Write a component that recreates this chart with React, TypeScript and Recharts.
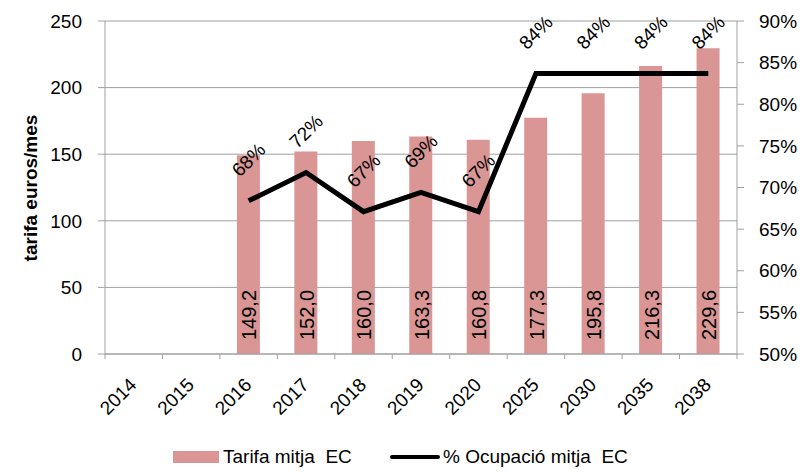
import { ComposedChart, Bar, Line, XAxis, YAxis, CartesianGrid, LabelList } from 'recharts';

const FONT = '"Liberation Sans", Arial, sans-serif';
const BAR_COLOR = '#d99694';
const AXIS_COLOR = '#a0a0a0';

const years = ['2014', '2015', '2016', '2017', '2018', '2019', '2020', '2025', '2030', '2035', '2038'];
const tarifa = [null, null, 149.2, 152.0, 160.0, 163.3, 160.8, 177.3, 195.8, 216.3, 229.6];
const ocupacio = [null, null, 68.4, 71.8, 67.1, 69.4, 67.1, 83.7, 83.7, 83.7, 83.7];
const leftTicks = [0, 50, 100, 150, 200, 250];
const rightTicks = [50, 55, 60, 65, 70, 75, 80, 85, 90];

const data = years.map((year, i) => ({ year, tarifa: tarifa[i], ocupacio: ocupacio[i] }));

const PLOT_W = 632;
const BAND = PLOT_W / years.length;

function YearTick(props: any) {
  const { x, y, index, payload } = props;
  const left = x - BAND / 2;
  return (
    <g>
      <line x1={left} y1={y} x2={left} y2={y + 5} stroke={AXIS_COLOR} />
      {index === years.length - 1 && (
        <line x1={x + BAND / 2} y1={y} x2={x + BAND / 2} y2={y + 5} stroke={AXIS_COLOR} />
      )}
      <text
        x={x + 4}
        y={y + 32}
        transform={`rotate(-45, ${x + 4}, ${y + 32})`}
        textAnchor="end"
        fontFamily={FONT}
        fontSize={19}
        fill="#000"
      >
        {payload.value}
      </text>
    </g>
  );
}

function BarValue(props: any) {
  const { x, y, width, height, value } = props;
  if (value == null) return null;
  const cx = x + width / 2 + 8;
  const cy = y + height - 14;
  return (
    <text
      x={cx}
      y={cy}
      transform={`rotate(-90, ${cx}, ${cy})`}
      textAnchor="start"
      fontFamily={FONT}
      fontSize={20}
      fill="#000"
    >
      {value.toFixed(1).replace('.', ',')}
    </text>
  );
}

function PctValue(props: any) {
  const { x, y, value } = props;
  if (value == null) return null;
  const cy = y - 41;
  return (
    <text
      x={x}
      y={cy}
      transform={`rotate(-45, ${x}, ${cy})`}
      textAnchor="middle"
      dominantBaseline="central"
      fontFamily={FONT}
      fontSize={19}
      fill="#000"
    >
      {Math.round(value)}%
    </text>
  );
}

export default function App() {
  return (
    <div style={{ position: 'absolute', left: 0, top: 0, width: 812, height: 472, background: '#fff' }}>
      <ComposedChart
        width={812}
        height={472}
        data={data}
        margin={{ top: 21, right: 0, bottom: 0, left: 0 }}
      >
        <CartesianGrid yAxisId="left" vertical={false} stroke={AXIS_COLOR} />
        <XAxis
          dataKey="year"
          height={118}
          tick={<YearTick />}
          tickLine={false}
          tickSize={0}
          tickMargin={0}
          axisLine={{ stroke: AXIS_COLOR }}
          interval={0}
        />
        <YAxis
          yAxisId="left"
          width={105}
          domain={[0, 250]}
          ticks={leftTicks}
          tickSize={7}
          tickMargin={16}
          tickLine={{ stroke: AXIS_COLOR }}
          axisLine={{ stroke: AXIS_COLOR }}
          tick={{ fontFamily: FONT, fontSize: 19, fill: '#000' }}
        />
        <YAxis
          yAxisId="right"
          orientation="right"
          width={75}
          domain={[50, 90]}
          ticks={rightTicks}
          tickFormatter={(v: number) => `${v}%`}
          tickSize={7}
          tickMargin={15}
          tickLine={{ stroke: AXIS_COLOR }}
          axisLine={{ stroke: AXIS_COLOR }}
          tick={{ fontFamily: FONT, fontSize: 19, fill: '#000', textAnchor: 'start' }}
        />
        <Bar yAxisId="left" dataKey="tarifa" fill={BAR_COLOR} barSize={23} isAnimationActive={false}>
          <LabelList dataKey="tarifa" content={<BarValue />} />
        </Bar>
        <Line
          yAxisId="right"
          dataKey="ocupacio"
          stroke="#000"
          strokeWidth={5}
          dot={false}
          activeDot={false}
          connectNulls={false}
          isAnimationActive={false}
        >
          <LabelList dataKey="ocupacio" content={<PctValue />} />
        </Line>
      </ComposedChart>
      <svg width={60} height={472} style={{ position: 'absolute', left: 0, top: 0 }}>
        <text
          x={37}
          y={188}
          transform="rotate(-90, 37, 188)"
          textAnchor="middle"
          fontFamily={FONT}
          fontSize={19}
          fontWeight={700}
          fill="#000"
        >
          tarifa euros/mes
        </text>
      </svg>
      <div style={{ position: 'absolute', left: 173, top: 451, width: 46, height: 12, background: BAR_COLOR }} />
      <div style={{ position: 'absolute', left: 223, top: 446, fontFamily: FONT, fontSize: 19, whiteSpace: 'pre', lineHeight: '22px' }}>
        Tarifa mitja  EC
      </div>
      <div style={{ position: 'absolute', left: 390, top: 455, width: 50, height: 4, background: '#000', borderRadius: 2 }} />
      <div style={{ position: 'absolute', left: 443, top: 446, fontFamily: FONT, fontSize: 19, whiteSpace: 'pre', lineHeight: '22px' }}>
        % Ocupació mitja  EC
      </div>
    </div>
  );
}
